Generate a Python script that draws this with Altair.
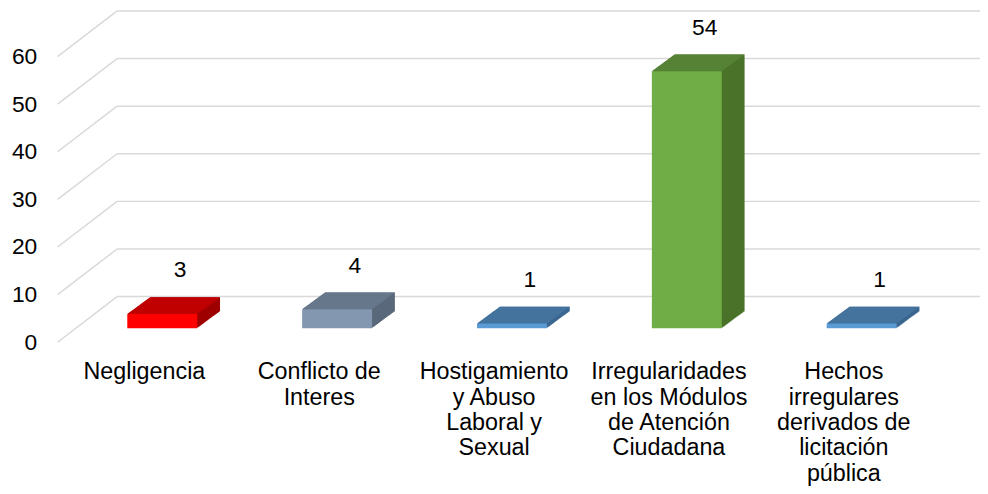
import json
import altair as alt
import pandas as pd

# ---------------- data ----------------
categories = [
    "Negligencia",
    "Conflicto de Interes",
    "Hostigamiento y Abuso Laboral y Sexual",
    "Irregularidades en los Módulos de Atención Ciudadana",
    "Hechos irregulares derivados de licitación pública",
]
values = [3, 4, 1, 54, 1]
label_lines = [
    ["Negligencia"],
    ["Conflicto de", "Interes"],
    ["Hostigamiento", "y Abuso", "Laboral y", "Sexual"],
    ["Irregularidades", "en los Módulos", "de Atención", "Ciudadana"],
    ["Hechos", "irregulares", "derivados de", "licitación", "pública"],
]
y_ticks = [0, 10, 20, 30, 40, 50, 60]

# ---------------- style ----------------
front_colors = ["#FF0000", "#8497B0", "#5B9BD5", "#70AD47", "#5B9BD5"]
top_colors = ["#C00000", "#66768B", "#44739E", "#558235", "#44739E"]
side_colors = ["#9E0000", "#5A687B", "#3B6690", "#4A7229", "#3B6690"]
grid_color = "#D9D9D9"
FONT = "Liberation Sans"
FS = 23

W, H = 980, 478
DEPTH_X, DEPTH_Y = 23, 17          # bar depth (pixels)
WALL_FRONT, WALL_BACK = 14, -32    # axis plane / back wall offsets

df = pd.DataFrame({
    "cat": categories,
    "value": values,
    "front": front_colors,
    "top": top_colors,
    "side": side_colors,
})
ticks_df = pd.DataFrame({"t": y_ticks})

yscale = alt.Scale(domain=[-32.708, 66.875], zero=False, nice=False)
xscale = alt.Scale(domain=categories, paddingInner=0.6, paddingOuter=0.5795, align=0.5886)

label_map = json.dumps(dict(zip(categories, label_lines)), ensure_ascii=False)

x_axis = alt.Axis(
    orient="bottom", offset=-125, labelOffset=-18, labelPadding=0,
    ticks=False, tickSize=0, domain=False, grid=False, title=None,
    labelFontSize=23.5, labelLineHeight=25.5, labelBaseline="top",
    labelAlign="center", labelAngle=0, labelOverlap=False, labelLimit=400,
    labelColor="#000000", labelFont=FONT,
    labelExpr=f"{label_map}[datum.label]",
)
y_axis = alt.Axis(
    orient="left", values=y_ticks, offset=-29, labelPadding=0,
    ticks=False, tickSize=0, domain=False, grid=False, title=None,
    labelFontSize=FS, labelOffset=WALL_FRONT, labelColor="#000000",
    labelAlign="right", labelBaseline="middle", format="d", labelFont=FONT,
)

base = alt.Chart(df)
x_enc = alt.X("cat:N", sort=categories, scale=xscale, axis=x_axis)
y_enc = alt.Y("value:Q", scale=yscale, axis=y_axis)

# 3D grid: diagonal on the left wall + horizontal on the back wall
grid_diag = alt.Chart(ticks_df).mark_rule(
    color=grid_color, strokeWidth=1.5, yOffset=WALL_FRONT, y2Offset=WALL_BACK
).encode(
    x=alt.value(50), x2=alt.value(110),
    y=alt.Y("t:Q", scale=yscale, axis=y_axis), y2=alt.Y2("t:Q"),
)
grid_back = alt.Chart(ticks_df).mark_rule(
    color=grid_color, strokeWidth=1.5, yOffset=WALL_BACK
).encode(
    x=alt.value(110), x2=alt.value(W),
    y=alt.Y("t:Q", scale=yscale, axis=y_axis),
)

# side faces: extruded stack of shifted bars
side_layers = []
for i in range(1, DEPTH_X + 1):
    off = i * DEPTH_Y / DEPTH_X
    side_layers.append(
        base.mark_bar(xOffset=i, x2Offset=i, yOffset=-off, y2Offset=-off).encode(
            x=x_enc, y=y_enc, y2=alt.datum(0),
            color=alt.Color("side:N", scale=None, legend=None),
        )
    )

# top faces: parallelogram symbol at the top of each bar
u = 50.0  # pixels per path unit (size = (2u)^2)
hw = 70.5 / 2 / u
dx = DEPTH_X / u
dy = DEPTH_Y / u
top_path = f"M {-hw:.4f} 0 L {hw:.4f} 0 L {hw + dx:.4f} {-dy:.4f} L {-hw + dx:.4f} {-dy:.4f} Z"
top_face = base.mark_point(
    shape=top_path, size=(2 * u) ** 2, filled=True, opacity=1, strokeWidth=0
).encode(
    x=x_enc, y=y_enc,
    color=alt.Color("top:N", scale=None, legend=None),
)

front = base.mark_bar().encode(
    x=x_enc, y=y_enc, y2=alt.datum(0),
    color=alt.Color("front:N", scale=None, legend=None),
)

labels = base.mark_text(
    dx=18, dy=-44, fontSize=FS, font=FONT, color="#000000", baseline="middle", align="center"
).encode(x=x_enc, y=y_enc, text=alt.Text("value:Q"))

chart = alt.layer(grid_diag, grid_back, *side_layers, top_face, front, labels).properties(
    width=W, height=H,
    padding={"left": 0, "top": 0, "right": 0, "bottom": 0},
    autosize=alt.AutoSizeParams(type="none"),
    background="white",
).configure(font=FONT).configure_view(stroke=None)

chart.save("out.html", embed_options={"renderer": "svg", "actions": False})
